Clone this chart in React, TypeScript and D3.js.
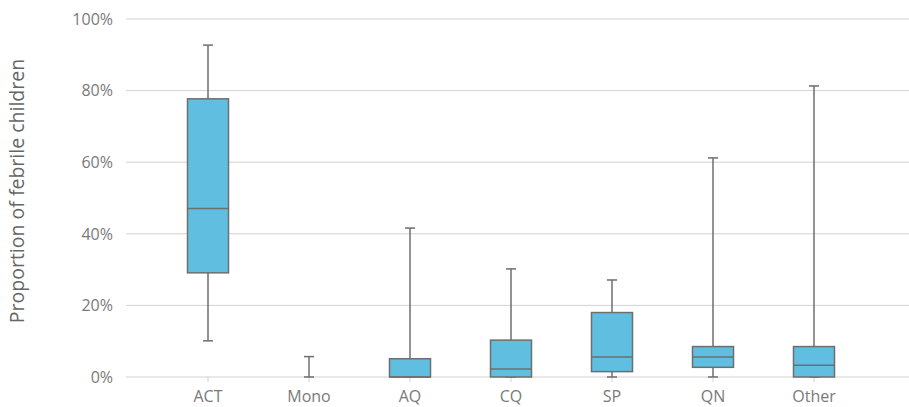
import React from "react";
import * as d3 from "d3";

const categories = ["ACT", "Mono", "AQ", "CQ", "SP", "QN", "Other"];
const whiskerLow = [0.101, 0, 0, 0, 0, 0, 0];
const quartile1 = [0.291, 0, 0, 0, 0.015, 0.027, 0];
const medians = [0.471, 0, 0, 0.022, 0.056, 0.056, 0.033];
const quartile3 = [0.777, 0, 0.051, 0.103, 0.18, 0.085, 0.085];
const whiskerHigh = [0.927, 0.057, 0.416, 0.302, 0.271, 0.612, 0.813];
const yTicks = [0, 0.2, 0.4, 0.6, 0.8, 1.0];

const W = 909;
const H = 407;
const plotLeft = 126;
const plotRight = 909;
const plotTop = 19;
const plotBottom = 377;

const FONT = "'Open Sans', Lato, sans-serif";
const TEXT = "#7a7a7a";
const GRID = "#d2d2d2";
const STROKE = "#6e6e6e";
const FILL = "#60bfe0";

export default function App() {
  const x = d3
    .scalePoint<string>()
    .domain(categories)
    .range([plotLeft + 82, plotRight - 95]);
  const y = d3.scaleLinear().domain([0, 1]).range([plotBottom, plotTop]);
  const boxW = 41;
  const capW = 10;
  const fmt = d3.format(".0%");

  return (
    <svg
      width={W}
      height={H}
      style={{ position: "absolute", left: 0, top: 0, background: "#fff" }}
    >
      {yTicks.map((t) => (
        <g key={t}>
          <line
            x1={plotLeft}
            x2={plotRight}
            y1={y(t)}
            y2={y(t)}
            stroke={GRID}
            strokeWidth={1}
          />
          <text
            x={113}
            y={y(t)}
            dy="0.36em"
            textAnchor="end"
            fontFamily={FONT}
            fontWeight={400}
            fontSize={16}
            fill={TEXT}
          >
            {fmt(t)}
          </text>
        </g>
      ))}
      {categories.map((c) => (
        <g key={c}>
          <line
            x1={x(c)}
            x2={x(c)}
            y1={plotBottom}
            y2={plotBottom + 5}
            stroke={GRID}
          />
          <text
            x={x(c)}
            y={402}
            textAnchor="middle"
            fontFamily={FONT}
            fontWeight={400}
            fontSize={16}
            fill={TEXT}
          >
            {c}
          </text>
        </g>
      ))}
      <text
        transform={`translate(24, 191) rotate(-90)`}
        textAnchor="middle"
        fontFamily={FONT}
        fontWeight={400}
        fontSize={19.5}
        fill="#666"
      >
        Proportion of febrile children
      </text>
      {categories.map((c, i) => {
        const cx = x(c) as number;
        const hasBox = quartile3[i] > quartile1[i];
        return (
          <g key={"b" + c} stroke={STROKE} strokeWidth={1.5}>
            <line x1={cx} x2={cx} y1={y(whiskerHigh[i])} y2={y(quartile3[i])} />
            <line x1={cx} x2={cx} y1={y(quartile1[i])} y2={y(whiskerLow[i])} />
            <line
              x1={cx - capW / 2}
              x2={cx + capW / 2}
              y1={y(whiskerHigh[i])}
              y2={y(whiskerHigh[i])}
            />
            <line
              x1={cx - capW / 2}
              x2={cx + capW / 2}
              y1={y(whiskerLow[i])}
              y2={y(whiskerLow[i])}
            />
            {hasBox && (
              <>
                <rect
                  x={cx - boxW / 2}
                  y={y(quartile3[i])}
                  width={boxW}
                  height={y(quartile1[i]) - y(quartile3[i])}
                  fill={FILL}
                />
                <line
                  x1={cx - boxW / 2}
                  x2={cx + boxW / 2}
                  y1={y(medians[i])}
                  y2={y(medians[i])}
                />
              </>
            )}
          </g>
        );
      })}
    </svg>
  );
}
